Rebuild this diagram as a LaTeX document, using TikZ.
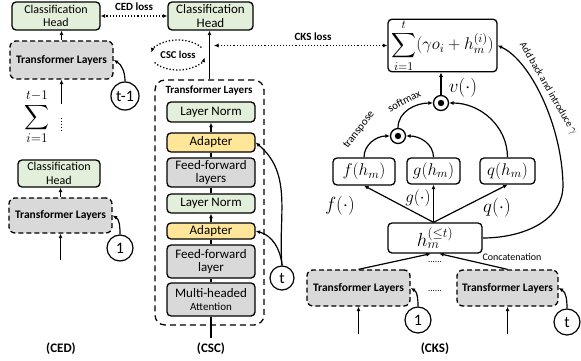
\RequirePackage{fix-cm}
\documentclass[tikz,border=0pt]{standalone}
\usepackage{amsmath}
\usepackage{fontspec}
\setmainfont{Carlito}
\usetikzlibrary{arrows.meta}
\definecolor{cgreen}{HTML}{E2EFDA}
\definecolor{cyellow}{HTML}{FFE699}
\definecolor{cgray}{HTML}{D9D9D9}
\newcommand{\myfs}[1]{\fontsize{#1}{#1}\selectfont}
\begin{document}
\begin{tikzpicture}[x=1pt,y=1pt,
  >={Latex[length=4.5pt,width=4pt]},
  wh/.style 2 args={minimum width=#1pt, minimum height=#2pt},
  box/.style={draw, line width=1.3pt, rounded corners=4pt, align=center, inner sep=0pt},
  greenbox/.style={box, fill=cgreen, font=\fontsize{13}{13.5}\selectfont},
  yelbox/.style={box, fill=cyellow, font=\fontsize{13}{13.5}\selectfont},
  graybox/.style={box, fill=cgray, font=\fontsize{13}{13.5}\selectfont},
  mathbox/.style={box, fill=white, font=\myfs{17}},
  tlbox/.style={draw, line width=1.3pt, dash pattern=on 5pt off 3pt, rounded corners=6pt,
     fill=cgray, font=\bfseries\myfs{11.5}, inner sep=0pt},
  numc/.style={circle, draw, line width=1.2pt, minimum size=26pt, inner sep=0pt, font=\myfs{16}},
  odot/.style={circle, draw, line width=1.3pt, minimum size=15pt, inner sep=0pt},
  conn/.style={line width=1.2pt},
  lossline/.style={dotted, line width=1.1pt, <->},
  lbl/.style={font=\bfseries\myfs{11}},
  capt/.style={font=\bfseries\myfs{13}},
  smalltxt/.style={font=\myfs{11}}
]
\useasboundingbox (0,0) rectangle (581,360);

% ---------------- CED ----------------
\node[greenbox, wh={88}{28}, font=\fontsize{12}{13.5}\selectfont] (ch1) at (56,344) {Classification\\Head};
\node[tlbox, wh={103}{38}] (tl1) at (61.5,300) {Transformer Layers};
\node[numc, minimum size=28pt] (c1) at (125,264) {t-1};
\node[font=\myfs{19}] (sum1) at (37,243) {$\displaystyle\sum_{i=1}^{t-1}$};
\coordinate (in1) at (61.5,256);
\coordinate (dA) at (61.5,242);
\coordinate (dB) at (61.5,227);
\draw[conn,->] (tl1.north) -- (tl1.north |- ch1.south);
\draw[conn,->] (in1) -- (tl1.south);
\draw[dotted, line width=1pt] (dA) -- (dB);
\draw[conn,->] (c1.north) to[out=90,in=-30] (tl1.east);

\node[greenbox, wh={82}{27}, font=\fontsize{12}{13.5}\selectfont] (ch2) at (59,186.5) {Classification\\Head};
\node[tlbox, wh={103}{35}] (tl2) at (60.5,144.5) {Transformer Layers};
\node[numc] (c2) at (120,112) {1};
\coordinate (in2) at (60.5,100);
\draw[conn,->] (tl2.north) -- (tl2.north |- ch2.south);
\draw[conn,->] (in2) -- (tl2.south);
\draw[conn,->] (c2.north) to[out=90,in=-30] (tl2.east);
\node[capt] (capced) at (61,11) {(CED)};

% ---------------- CSC ----------------
\node[greenbox, wh={85}{28}] (ch3) at (210.5,344) {Classification\\Head};
\node[draw, line width=1.3pt, dash pattern=on 6pt off 4pt, rounded corners=10pt,
      wh={109}{245}] (big) at (209.5,157.5) {};
\node[lbl] (tltitle) at (209,269) {Transformer Layers};
\node[greenbox, wh={88}{20}] (ln1) at (211,248) {Layer Norm};
\node[yelbox, wh={88}{19}] (ad1) at (211,217.5) {Adapter};
\node[graybox, wh={88}{29}] (ff1) at (211,187.5) {Feed-forward\\layers};
\node[greenbox, wh={88}{19}] (ln2) at (211,156.5) {Layer Norm};
\node[yelbox, wh={88}{16}] (ad2) at (211,129) {Adapter};
\node[graybox, wh={88}{33}] (ff2) at (211,98.5) {Feed-forward\\layer};
\node[graybox, wh={88}{33}] (mha) at (211,60.5) {Multi-headed\\{\myfs{11}Attention}};
\coordinate (in5) at (211,22);
\draw[conn,->] (ad1) -- (ln1);
\draw[conn] (ff1) -- (ad1);
\draw[conn] (ln2) -- (ff1);
\draw[conn,->] (ad2) -- (ln2);
\draw[conn] (ff2) -- (ad2);
\draw[conn] (mha) -- (ff2);
\draw[conn] (in5) -- (mha.south);
\draw[line width=1.8pt,->] (big.north) -- (big.north |- ch3.south);
\node[numc, minimum size=24pt] (c5) at (282,82) {t};
\draw[conn,->] (c5.north) to[out=95,in=-15] (ad2.east);
\draw[conn,->] (c5.north) to[out=95,in=-40] (ad1.east);
% CSC loss
\node[font=\bfseries\myfs{10.5}] (cscl) at (178,305) {CSC loss};
\draw[dotted, line width=1.3pt, ->] (cscl.center) ++(30:27 and 15)
   arc[start angle=30, end angle=170, x radius=27, y radius=15];
\draw[dotted, line width=1.3pt, ->] (cscl.center) ++(210:27 and 15)
   arc[start angle=210, end angle=350, x radius=27, y radius=15];
\node[capt] (capcsc) at (211,11) {(CSC)};

% CED loss
\draw[lossline] (ch3.west) -- (ch1.east);
\node[lbl] (cedl) at (134,353) {CED loss};

% ---------------- CKS ----------------
\node[mathbox, wh={109}{49}] (sb) at (442.5,314.5)
   {$\displaystyle\sum_{i=1}^{t}(\gamma o_i + h_m^{(i)})$};
\coordinate (cksend) at (214,314.5);
\draw[lossline] (sb.west) -- (cksend);
\node[lbl] (cksl) at (313,323) {CKS loss};

\node[odot] (od1) at (441,257) {};
\fill (od1.center) circle (3.2pt);
\node[odot] (od2) at (398,224) {};
\fill (od2.center) circle (3.2pt);
\node[font=\myfs{19}] (vl) at (463,272) {$v(\cdot)$};
\draw[conn,->] (od1.north) -- (od1.north |- sb.south);

\node[mathbox, wh={62}{27}] (fb) at (364,188.5) {$f(h_m)$};
\node[mathbox, wh={53}{26}] (gb) at (433.5,189) {$g(h_m)$};
\node[mathbox, wh={55}{26}] (qb) at (507.5,189) {$q(h_m)$};
\node[mathbox, wh={94}{30}, font=\myfs{19}] (hb) at (435,122) {$h_m^{(\leq t)}$};
\coordinate (hp) at (hb.north -| gb.south);
\draw[conn,->] (hp) -- (fb.south);
\draw[conn,->] (hp) -- (gb.south);
\draw[conn,->] (hp) -- (qb.south);
\node[font=\myfs{19}] (fl) at (340,154) {$f(\cdot)$};
\node[font=\myfs{17}] (gl) at (418,162) {$g(\cdot)$};
\node[font=\myfs{19}] (ql) at (497,152) {$q(\cdot)$};

\draw[conn,->] (fb.north) to[out=90,in=180] (od2.west);
\draw[conn,->] (gb.north) to[out=90,in=0] (od2.east);
\draw[conn,->] (od2.north) to[out=90,in=180] (od1.west);
\draw[conn,->] (qb.north) to[out=90,in=0] (od1.east);
\node[smalltxt, rotate=52] (trl) at (359,230) {transpose};
\node[smalltxt, rotate=28] (sml) at (404,259) {softmax};

\coordinate (ab) at (563,175);
\draw[conn,->] (hb.east) to[out=0,in=-90] (ab) .. controls (562,235) and (530,300) .. (sb.east);
\node[font=\myfs{10}, rotate=-60] (abl) at (548,271) {Add back and introduce {\myfs{12}$\gamma$}};

\node[tlbox, wh={103}{36}] (tl3) at (358.5,72) {Transformer Layers};
\node[tlbox, wh={101}{36}] (tl4) at (507.5,72) {Transformer Layers};
\node[numc] (c3) at (418,40) {1};
\node[numc] (c4) at (567,38) {t};
\coordinate (in3) at (358.5,26);
\coordinate (in4) at (507.5,26);
\draw[conn,->] (in3) -- (tl3.south);
\draw[conn,->] (in4) -- (tl4.south);
\draw[conn,->] (c3.north) to[out=90,in=-30] (tl3.east);
\draw[conn,->] (c4.north) to[out=90,in=-30] (tl4.east);
\draw[conn,->] (tl3.north) -- (hb.-105);
\draw[conn,->] (tl4.north) -- (hb.-75);
\node[font=\myfs{9}] (dots1) at (435,98) {......};
\node[font=\myfs{9}] (dots2) at (435,69) {......};
\node[font=\myfs{10}] (concat) at (512,103) {Concatenation};
\node[capt] (capcks) at (435,11) {(CKS)};
\end{tikzpicture}
\end{document}
